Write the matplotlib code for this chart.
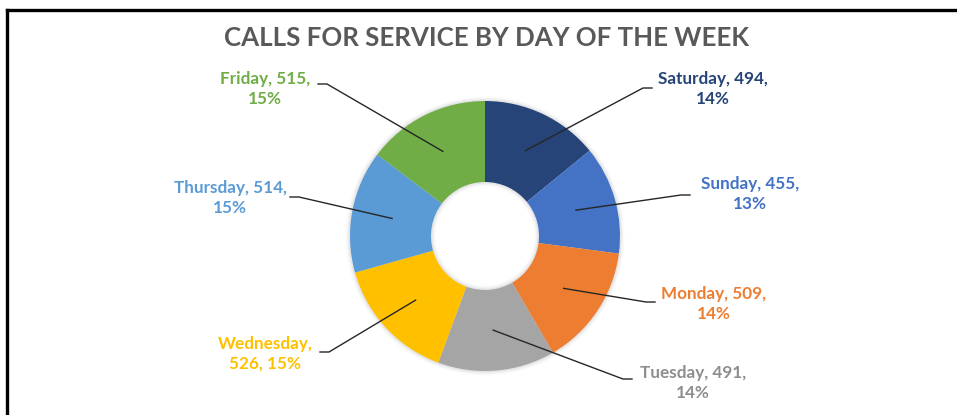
import matplotlib.pyplot as plt
import numpy as np

# data, in the order drawn clockwise from 12 o'clock
days = ["Saturday", "Sunday", "Monday", "Tuesday", "Wednesday", "Thursday", "Friday"]
calls = [494, 455, 509, 491, 526, 514, 515]
label_text = [
    "Saturday, 494,\n14%",
    "Sunday, 455,\n13%",
    "Monday, 509,\n14%",
    "Tuesday, 491,\n14%",
    "Wednesday,\n526, 15%",
    "Thursday, 514,\n15%",
    "Friday, 515,\n15%",
]
colors = ["#264478", "#4472C4", "#ED7D31", "#A5A5A5", "#FFC000", "#5B9BD5", "#70AD47"]
text_colors = ["#264478", "#4472C4", "#ED7D31", "#8E8E8E", "#FFC000", "#5B9BD5", "#70AD47"]
title = "CALLS FOR SERVICE BY DAY OF THE WEEK"

W, H = 957, 415
CX, CY = 485, 236          # donut centre in pixel coords (y down)
R_OUT, R_IN = 135, 54

# label layout: text centre and leader end (pixel coords, y down)
label_pos = [(713, 89), (750, 194), (714, 304), (693, 383), (265, 354), (230, 198), (265, 89)]
leader_end = [(652, 88), (690, 195), (655, 302), (632, 379), (320, 352), (290, 197), (318, 84)]


def py(y):
    return H - y


plt.rcParams["font.family"] = ["Lato", "DejaVu Sans"]

fig = plt.figure(figsize=(W / 100, H / 100), dpi=100)
ax = fig.add_axes([0, 0, 1, 1])

# soft shadow around the ring
for i, a in enumerate([0.05, 0.035, 0.02]):
    ring = plt.matplotlib.patches.Wedge(
        (CX, py(CY)), R_OUT + 1.5 + i * 1.5, 0, 360, width=R_OUT - R_IN + 3 + i * 3,
        facecolor="#000000", alpha=a, edgecolor="none", zorder=1,
    )
    ax.add_patch(ring)

wedges, _ = ax.pie(
    calls,
    colors=colors,
    startangle=90,
    counterclock=False,
    radius=R_OUT,
    center=(CX, py(CY)),
    wedgeprops=dict(width=R_OUT - R_IN, edgecolor="none"),
    frame=True,
)
for w in wedges:
    w.set_zorder(2)
ax.set_xlim(0, W)
ax.set_ylim(0, H)
ax.set_aspect("equal")
ax.axis("off")

r_mid = (R_OUT + R_IN) / 2
for w, txt, col, (tx, ty), (ex, ey) in zip(wedges, label_text, text_colors, label_pos, leader_end):
    ang = np.deg2rad((w.theta1 + w.theta2) / 2)
    sx = CX + r_mid * np.cos(ang)
    sy = py(CY) + r_mid * np.sin(ang)
    stub = 9 if ex > CX else -9
    ax.plot([sx, ex - stub, ex], [sy, py(ey), py(ey)], color="#262626", lw=1.0, zorder=3)
    ax.text(tx, py(ty), txt, ha="center", va="center", color=col,
            fontsize=12.3, fontweight="bold", linespacing=1.3, zorder=4)

ax.text(486, py(38), title, ha="center", va="center", color="#595959",
        fontsize=18.6, fontweight="bold")

# frame: top and left edges only
ax.plot([7, 7], [0, py(10)], color="black", lw=2.4, solid_capstyle="projecting")
ax.plot([7, W], [py(10), py(10)], color="black", lw=2.4, solid_capstyle="projecting")

fig.savefig("out.png", dpi=100)
